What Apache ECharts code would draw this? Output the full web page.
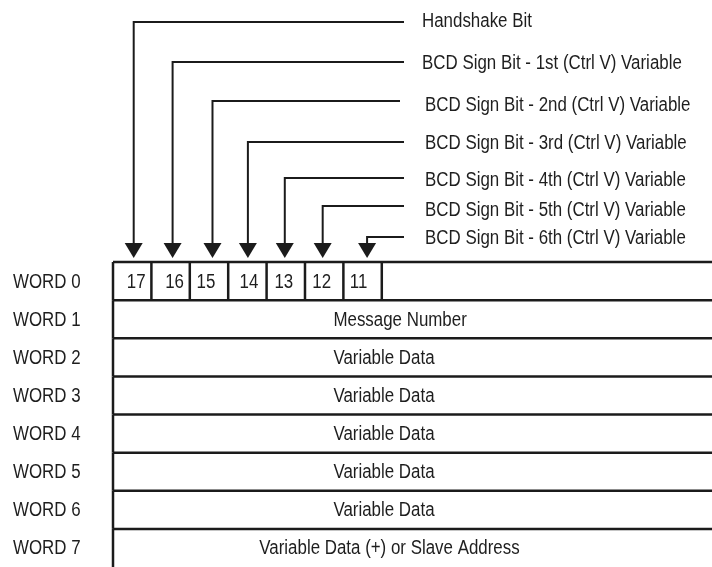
<!DOCTYPE html>
<html>
<head>
<meta charset="utf-8">
<script src="https://cdn.jsdelivr.net/npm/echarts@6/dist/echarts.min.js"></script>
<style>
html,body{margin:0;padding:0;background:#fff;}
#chart{width:712px;height:567px;}
</style>
</head>
<body>
<div id="chart"></div>
<script>
// ---- data ----
const words = ['WORD 0', 'WORD 1', 'WORD 2', 'WORD 3', 'WORD 4', 'WORD 5', 'WORD 6', 'WORD 7'];
const bitNumbers = ['17', '16', '15', '14', '13', '12', '11'];
const bitDescriptions = [
  'Handshake Bit',
  'BCD Sign Bit - 1st (Ctrl V) Variable',
  'BCD Sign Bit - 2nd (Ctrl V) Variable',
  'BCD Sign Bit - 3rd (Ctrl V) Variable',
  'BCD Sign Bit - 4th (Ctrl V) Variable',
  'BCD Sign Bit - 5th (Ctrl V) Variable',
  'BCD Sign Bit - 6th (Ctrl V) Variable'
];
const wordContents = ['', 'Message Number', 'Variable Data', 'Variable Data', 'Variable Data',
  'Variable Data', 'Variable Data', 'Variable Data (+) or Slave Address'];

// ---- style / layout ----
const FONT = "'Liberation Sans', Arial, sans-serif";
const NARROW = 0.845;     // horizontal squeeze to imitate a narrow face
const INK = '#1b1b1b';
const TXT = '#1e1e1e';
const X_MAX = 15.6;
// leader line offsets above the table top (px), and label offsets
const leaderRise = [240, 200, 161, 120, 84, 56, 25];
const labelRise = [241, 199, 157, 119, 82, 52, 24];
const labelLeft = [422, 422, 425, 425, 425, 425, 425];
const leaderEnd = [404, 404, 400, 404, 404, 404, 404];
// small hand-drawn offsets (px) of arrows and bit numbers within their cells
const arrowShift = [1.5, 2, 3.5, 0.5, -1, -1.5, 4.5];
const numberShift = [4, 4, -3, 1.5, -2, -2.5, -4];

const chart = echarts.init(document.getElementById('chart'), null, {renderer: 'canvas'});

function narrowText(str, x, y, align) {
  return {
    type: 'text', x: x, y: y, scaleX: NARROW, scaleY: 1,
    style: {text: str, x: 0, y: 0, fill: TXT, fontSize: 20, fontFamily: FONT,
      align: align, verticalAlign: 'middle'}
  };
}

function tableRow(params, api) {
  const i = api.value(0);
  const c = api.coord([0, i]);
  const h = api.size([0, 1])[1];
  const cw = api.size([1, 0])[0];
  const top = c[1] - h / 2;
  const x0 = c[0];
  const xEnd = api.coord([X_MAX + 0.3, i])[0];
  const lineStyle = {stroke: INK, lineWidth: 2.5, fill: null};
  const children = [];
  children.push({type: 'line', shape: {x1: x0, y1: top, x2: xEnd, y2: top}, style: lineStyle});
  children.push({type: 'line', shape: {x1: x0, y1: top, x2: x0, y2: top + h}, style: lineStyle});
  // row label (WORD n)
  children.push(narrowText(words[i], 13, c[1] + 1, 'left'));
  if (i === 0) {
    bitNumbers.forEach(function (b, k) {
      const xr = x0 + (k + 1) * cw;
      children.push({type: 'line', shape: {x1: xr, y1: top, x2: xr, y2: top + h}, style: lineStyle});
      children.push(narrowText(b, x0 + (k + 0.5) * cw + numberShift[k], c[1] + 1, 'center'));
    });
  } else {
    const last = i === words.length - 1;
    const tx = last ? api.coord([7.2, i])[0] : api.coord([5.74, i])[0];
    children.push(narrowText(wordContents[i], tx, c[1] + 1, last ? 'center' : 'left'));
  }
  return {type: 'group', children: children};
}

function leader(params, api) {
  const k = api.value(0);
  const c0 = api.coord([0, 0]);
  const h = api.size([0, 1])[1];
  const tableTop = c0[1] - h / 2;
  const x = api.coord([k + 0.5, 0])[0] + arrowShift[k];
  const y = tableTop - leaderRise[k];
  const tipY = tableTop - 4;
  const headH = 15, headW = 9;
  const st = {stroke: INK, lineWidth: 2, fill: null};
  return {type: 'group', children: [
    {type: 'line', shape: {x1: x, y1: y, x2: leaderEnd[k], y2: y}, style: st},
    {type: 'line', shape: {x1: x, y1: y - 1, x2: x, y2: tipY - headH + 1}, style: st},
    {type: 'polygon', shape: {points: [[x - headW, tipY - headH], [x + headW, tipY - headH], [x, tipY]]},
      style: {fill: INK, stroke: null}},
    narrowText(bitDescriptions[k], labelLeft[k], tableTop - labelRise[k], 'left')
  ]};
}

chart.setOption({
  animation: false,
  backgroundColor: '#ffffff',
  grid: {left: 113, top: 262, width: 600, height: 308, containLabel: false},
  xAxis: {type: 'value', min: 0, max: X_MAX, show: false},
  yAxis: {
    type: 'category', data: words, inverse: true,
    axisLine: {show: false}, axisTick: {show: false}, splitLine: {show: false},
    axisLabel: {show: false}
  },
  series: [
    {type: 'custom', renderItem: tableRow, data: words.map(function (w, i) { return [i]; }), clip: false},
    {type: 'custom', renderItem: leader, data: bitDescriptions.map(function (d, k) { return [k]; }), clip: false}
  ]
});
</script>
</body>
</html>
